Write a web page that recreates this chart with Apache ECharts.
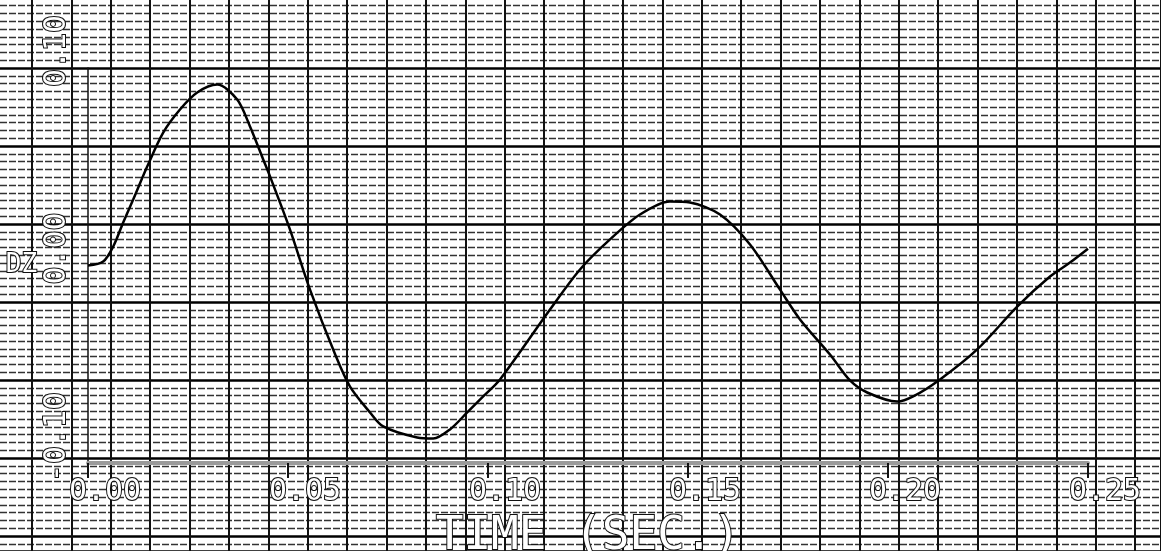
<!DOCTYPE html>
<html lang="en" style="height: 100%">
<head>
  <meta charset="UTF-8" />
  <title>DZ vs Time</title>
  <script src="https://cdn.jsdelivr.net/npm/echarts@6.0.0/dist/echarts.min.js"></script>
  <style>
    html, body {
      height: 100%;
      margin: 0;
      background-color: #fff;
    }
    #chart {
      width: 1161px;
      height: 551px;
    }
  </style>
</head>
<body>
  <div id="chart"></div>

  <script>
    // values
    const timeSec = [0, 0.0038, 0.0063, 0.0088, 0.0113, 0.0148, 0.0188, 0.023, 0.0273, 0.0323,
      0.0373, 0.0405, 0.0438, 0.0455, 0.0505, 0.0555, 0.0618, 0.0655, 0.0705, 0.0738,
      0.0823, 0.0863, 0.0905, 0.0948, 0.0988, 0.103, 0.1155, 0.123, 0.1305, 0.138,
      0.1455, 0.1505, 0.158, 0.1655, 0.173, 0.178, 0.1855, 0.1905, 0.1948, 0.2023,
      0.2063, 0.213, 0.2223, 0.2323, 0.2405, 0.2455, 0.25];
    const dz = [0, 0.002, 0.0096, 0.0218, 0.0334, 0.0501, 0.0673, 0.079, 0.0876, 0.0916,
      0.084, 0.0704, 0.0537, 0.0451, 0.0182, -0.0122, -0.0451, -0.0613, -0.0744, -0.0815,
      -0.0871, -0.0876, -0.083, -0.0744, -0.0663, -0.0577, -0.0223, -0.002, 0.0132, 0.0258,
      0.0324, 0.0319, 0.0258, 0.0106, -0.0122, -0.0273, -0.0451, -0.0582, -0.0643, -0.0689,
      -0.0663, -0.0577, -0.0425, -0.0208, -0.0056, 0.0015, 0.0085];

    const font = 'DejaVu Sans Mono';
    const hollow = { color: '#fff', textBorderColor: '#111', textBorderWidth: 2 };

    // tick label shifted so it starts a bit before the tick, like the plotter did
    function tickLabel(v) {
      const s = v.toFixed(2);
      return s.length > 4 ? '{p5|' + s + '}' : '{p4|' + s + '}';
    }
    const labelRich = {
      p4: Object.assign({ fontFamily: font, fontSize: 30, lineHeight: 30, padding: [0, 0, 0, 34] }, hollow),
      p5: Object.assign({ fontFamily: font, fontSize: 30, lineHeight: 30, padding: [0, 0, 0, 52] }, hollow)
    };

    const hidden = { z: 0, axisLine: { show: false }, axisTick: { show: false }, axisLabel: { show: false } };

    const chart = echarts.init(document.getElementById('chart'));

    chart.setOption({
      backgroundColor: '#fff',
      animation: false,
      grid: [
        // graph paper, vertical rules
        { left: 32, right: 0, top: 0, bottom: 0, outerBoundsMode: 'none' },
        // graph paper, horizontal rules
        { left: 0, right: 0, top: -10, bottom: 0, outerBoundsMode: 'none' },
        // plot
        { left: 88, right: 73, top: 68, bottom: 88, outerBoundsMode: 'none', containLabel: false }
      ],
      xAxis: [
        Object.assign({
          gridIndex: 0, type: 'value', min: 0, max: 1129, interval: 39.4,
          splitLine: { show: true, lineStyle: { color: '#111', width: 2 } }
        }, hidden),
        Object.assign({
          gridIndex: 1, type: 'value', min: 0, max: 1, splitLine: { show: false }
        }, hidden),
        {
          gridIndex: 2, type: 'value', min: 0, max: 0.25, interval: 0.05, z: 5,
          name: 'TIME (SEC.)', nameLocation: 'middle', nameGap: 46,
          nameTextStyle: Object.assign({ fontFamily: font, fontSize: 46, lineHeight: 46 }, hollow),
          axisLine: { show: true, onZero: false, lineStyle: { color: '#9a9a9a', width: 4 } },
          axisTick: { show: true, inside: false, length: 15, lineStyle: { color: '#111', width: 2 } },
          axisLabel: { margin: 14, formatter: tickLabel, rich: labelRich },
          splitLine: { show: false }
        }
      ],
      yAxis: [
        Object.assign({
          gridIndex: 0, type: 'value', min: 0, max: 1, splitLine: { show: false }
        }, hidden),
        Object.assign({
          gridIndex: 1, type: 'value', inverse: true, min: 0, max: 561, interval: 78,
          splitLine: { show: true, lineStyle: { color: '#000', width: 2.5 } },
          minorTick: { show: false, splitNumber: 10 },
          minorSplitLine: { show: true, lineStyle: { color: '#333', width: 1.3, type: [7, 2] } }
        }, hidden),
        {
          gridIndex: 2, type: 'value', min: -0.1, max: 0.1, interval: 0.1, z: 5,
          name: 'DZ', nameLocation: 'middle', nameRotate: 0, nameGap: 50,
          nameTextStyle: Object.assign({ fontFamily: font, fontSize: 26, lineHeight: 26, padding: [14, 0, 0, 0] }, hollow),
          axisLine: { show: true, onZero: false, lineStyle: { color: '#111', width: 1.5 } },
          axisTick: { show: false },
          axisLabel: { rotate: 90, margin: 16, formatter: tickLabel, rich: labelRich },
          splitLine: { show: false }
        }
      ],
      series: [
        {
          type: 'line',
          xAxisIndex: 2,
          yAxisIndex: 2,
          data: timeSec.map((t, i) => [t, dz[i]]),
          showSymbol: false,
          smooth: 0.3,
          z: 6,
          lineStyle: { color: '#000', width: 2.5 }
        }
      ]
    });
  </script>
</body>
</html>
